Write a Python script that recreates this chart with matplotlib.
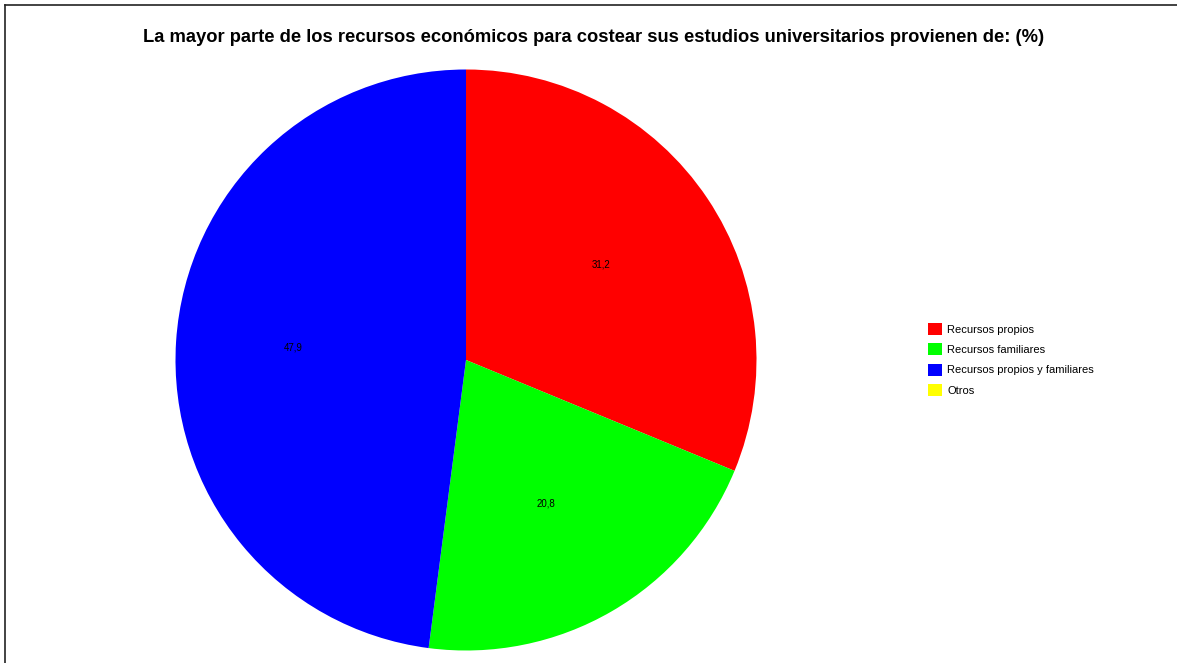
import numpy as np
import matplotlib.pyplot as plt
from matplotlib.lines import Line2D
from matplotlib.patches import Patch

plt.rcParams['font.family'] = ['Liberation Sans', 'DejaVu Sans']

categorias = ['Recursos propios', 'Recursos familiares',
              'Recursos propios y familiares', 'Otros']
porcentajes = [31.2, 20.8, 47.9, 0.0]
colores = ['#ff0000', '#00ff00', '#0000ff', '#ffff00']

W, H = 1177, 663
fig = plt.figure(figsize=(W / 100, H / 100), dpi=100)
ax = fig.add_axes([0, 0, 1, 1])

def etiqueta(valor):
    return f'{valor:.1f}'.replace('.', ',') if valor > 0 else ''

etiquetas = [etiqueta(v) for v in porcentajes]

cx, cy, radio = 466, H - 360, 290.5
ax.pie(porcentajes, colors=colores, startangle=90, counterclock=False,
       center=(cx, cy), radius=radio, wedgeprops=dict(linewidth=0))

# etiquetas de valor dentro de cada sector
total = sum(porcentajes)
acum = 0
for v, txt in zip(porcentajes, etiquetas):
    mid = 90 - 360 * (acum + v / 2) / total
    acum += v
    if not txt:
        continue
    r = radio * 0.58
    ax.text(cx + r * np.cos(np.radians(mid)) - 5, cy + r * np.sin(np.radians(mid)) + 2,
            txt, ha='center', va='center', fontsize=7, color='black')

ax.set_xlim(0, W)
ax.set_ylim(0, H)
ax.set_aspect('auto')
ax.axis('off')

fig.text(594 / W, 1 - 38 / H,
         'La mayor parte de los recursos económicos para costear sus estudios universitarios provienen de: (%)',
         ha='center', va='center', fontsize=13.2, fontweight='bold')

handles = [Patch(facecolor=c, edgecolor='none') for c in colores]
fig.legend(handles, categorias, loc='upper left', bbox_to_anchor=(928 / W, 1 - 323 / H),
           frameon=False, fontsize=8, handlelength=1.25, handleheight=1.25,
           handletextpad=0.5, labelspacing=0.78, borderaxespad=0, borderpad=0)

# marco
fig.add_artist(Line2D([5 / W, 5 / W], [0, 1 - 5 / H], color='#222222', lw=1.2))
fig.add_artist(Line2D([5 / W, 1], [1 - 5 / H, 1 - 5 / H], color='#222222', lw=1.2))

fig.savefig('out.png', dpi=100)
